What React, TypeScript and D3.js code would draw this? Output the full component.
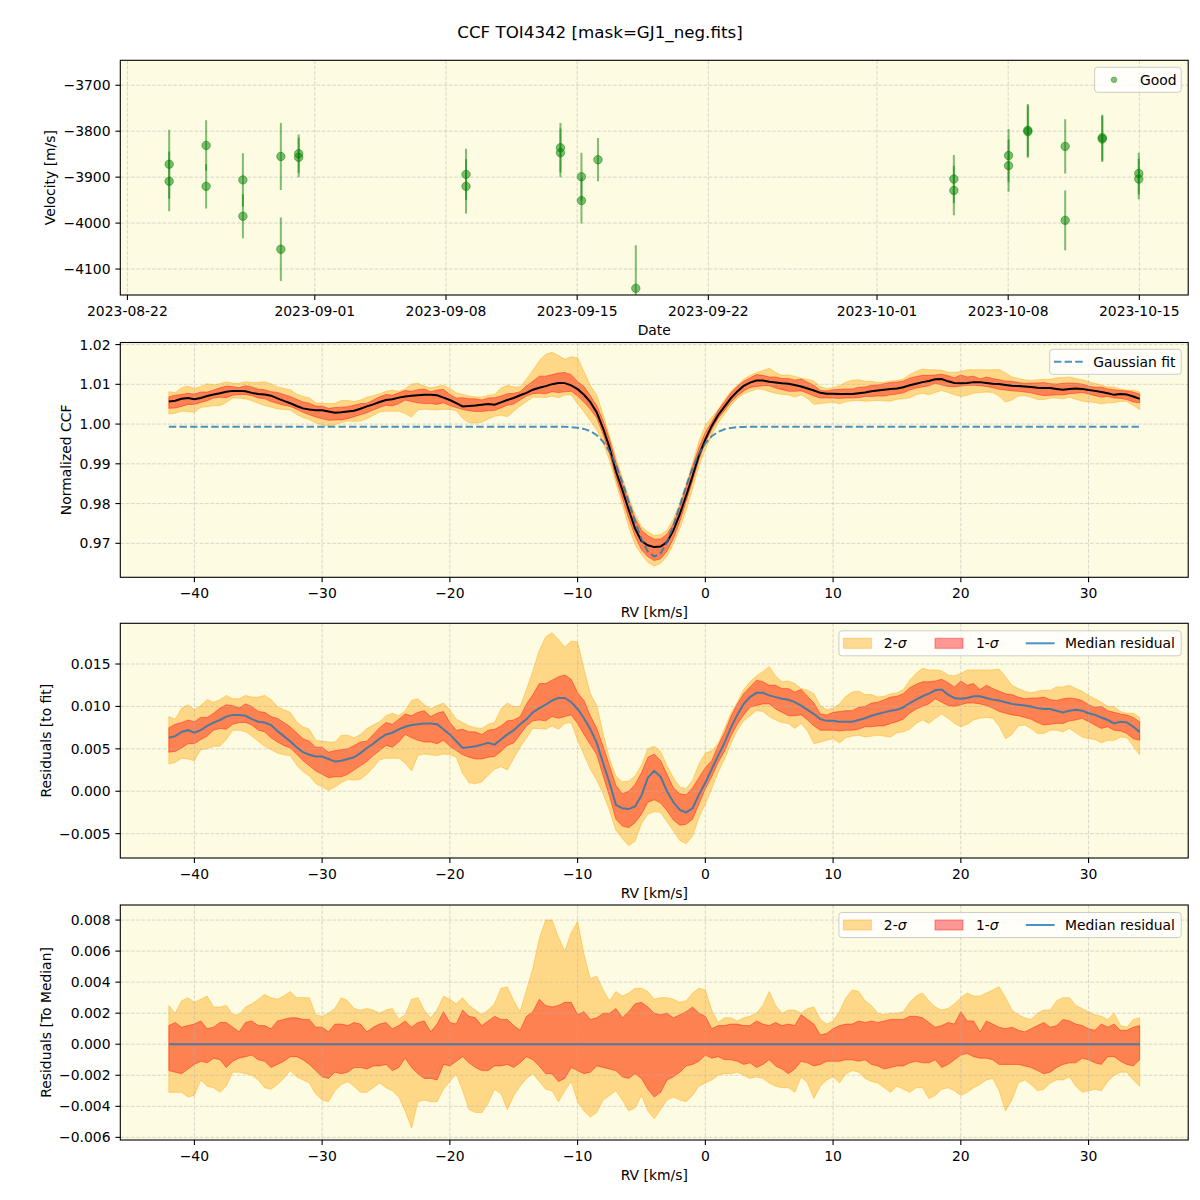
import React from 'react';
import * as d3 from 'd3';

// ---------------- DATA ----------------
// Panel 1: RV time series (velocity in m/s, error in m/s)
const OBS_TIME = [
  '2023-08-24T05:30:00Z', '2023-08-24T05:30:00Z',
  '2023-08-26T04:50:00Z', '2023-08-26T04:50:00Z',
  '2023-08-28T03:55:00Z', '2023-08-28T03:55:00Z',
  '2023-08-30T04:30:00Z', '2023-08-30T04:30:00Z',
  '2023-08-31T03:20:00Z', '2023-08-31T03:20:00Z',
  '2023-09-09T01:40:00Z', '2023-09-09T01:40:00Z',
  '2023-09-14T02:35:00Z', '2023-09-14T02:35:00Z',
  '2023-09-15T05:30:00Z', '2023-09-15T05:30:00Z',
  '2023-09-16T02:40:00Z',
  '2023-09-18T03:05:00Z',
  '2023-10-05T02:25:00Z', '2023-10-05T02:25:00Z',
  '2023-10-08T00:30:00Z', '2023-10-08T00:30:00Z',
  '2023-10-09T01:10:00Z', '2023-10-09T01:10:00Z',
  '2023-10-11T01:00:00Z', '2023-10-11T01:00:00Z',
  '2023-10-13T00:30:00Z', '2023-10-13T00:30:00Z',
  '2023-10-14T23:15:00Z', '2023-10-14T23:15:00Z',
];
const OBS_VEL = [
  -3872, -3909, -3831, -3920, -3906, -3985, -3855, -4057, -3849, -3857,
  -3894, -3920, -3836, -3847, -3899, -3951, -3862, -4142,
  -3904, -3929, -3853, -3875, -3798, -3801, -3833, -3994, -3814, -3817, -3892, -3904,
];
const OBS_ERR = [
  75, 65, 55, 48, 58, 48, 73, 69, 42, 43,
  56, 59, 54, 53, 52, 50, 47, 94,
  52, 54, 58, 57, 57, 57, 59, 65, 50, 50, 45, 44,
];

// RV grid (km/s)
const RV = [
  -42, -41.5, -41, -40.5, -40, -39.5, -39, -38.5, -38, -37.5,
  -37, -36.5, -36, -35.5, -35, -34.5, -34, -33.5, -33, -32.5,
  -32, -31.5, -31, -30.5, -30, -29.5, -29, -28.5, -28, -27.5,
  -27, -26.5, -26, -25.5, -25, -24.5, -24, -23.5, -23, -22.5,
  -22, -21.5, -21, -20.5, -20, -19.5, -19, -18.5, -18, -17.5,
  -17, -16.5, -16, -15.5, -15, -14.5, -14, -13.5, -13, -12.5,
  -12, -11.5, -11, -10.5, -10, -9.5, -9, -8.5, -8, -7.5,
  -7, -6.5, -6, -5.5, -5, -4.5, -4, -3.5, -3, -2.5,
  -2, -1.5, -1, -0.5, 0, 0.5, 1, 1.5, 2, 2.5,
  3, 3.5, 4, 4.5, 5, 5.5, 6, 6.5, 7, 7.5,
  8, 8.5, 9, 9.5, 10, 10.5, 11, 11.5, 12, 12.5,
  13, 13.5, 14, 14.5, 15, 15.5, 16, 16.5, 17, 17.5,
  18, 18.5, 19, 19.5, 20, 20.5, 21, 21.5, 22, 22.5,
  23, 23.5, 24, 24.5, 25, 25.5, 26, 26.5, 27, 27.5,
  28, 28.5, 29, 29.5, 30, 30.5, 31, 31.5, 32, 32.5,
  33, 33.5, 34,
];

// Gaussian fit (normalized CCF)
const GAUSS = [
  0.99935, 0.99935, 0.99935, 0.99935, 0.99935, 0.99935, 0.99935, 0.99935, 0.99935, 0.99935,
  0.99935, 0.99935, 0.99935, 0.99935, 0.99935, 0.99935, 0.99935, 0.99935, 0.99935, 0.99935,
  0.99935, 0.99935, 0.99935, 0.99935, 0.99935, 0.99935, 0.99935, 0.99935, 0.99935, 0.99935,
  0.99935, 0.99935, 0.99935, 0.99935, 0.99935, 0.99935, 0.99935, 0.99935, 0.99935, 0.99935,
  0.99935, 0.99935, 0.99935, 0.99935, 0.99935, 0.99935, 0.99935, 0.99935, 0.99935, 0.99935,
  0.99935, 0.99935, 0.99935, 0.99935, 0.99935, 0.99935, 0.99935, 0.99935, 0.99935, 0.99935,
  0.99934, 0.99933, 0.99930, 0.99923, 0.99908, 0.99878, 0.99821, 0.99720, 0.99557, 0.99311,
  0.98973, 0.98545, 0.98053, 0.97551, 0.97106, 0.96792, 0.96665, 0.96751, 0.97031, 0.97455,
  0.97952, 0.98450, 0.98894, 0.99251, 0.99515, 0.99693, 0.99805, 0.99869, 0.99904, 0.99921,
  0.99929, 0.99933, 0.99934, 0.99935, 0.99935, 0.99935, 0.99935, 0.99935, 0.99935, 0.99935,
  0.99935, 0.99935, 0.99935, 0.99935, 0.99935, 0.99935, 0.99935, 0.99935, 0.99935, 0.99935,
  0.99935, 0.99935, 0.99935, 0.99935, 0.99935, 0.99935, 0.99935, 0.99935, 0.99935, 0.99935,
  0.99935, 0.99935, 0.99935, 0.99935, 0.99935, 0.99935, 0.99935, 0.99935, 0.99935, 0.99935,
  0.99935, 0.99935, 0.99935, 0.99935, 0.99935, 0.99935, 0.99935, 0.99935, 0.99935, 0.99935,
  0.99935, 0.99935, 0.99935, 0.99935, 0.99935, 0.99935, 0.99935, 0.99935, 0.99935, 0.99935,
  0.99935, 0.99935, 0.99935,
];

// Median residual to the fit
const MED = [
  0.0063, 0.0065, 0.0070, 0.0072, 0.0069, 0.0072, 0.0077, 0.0081, 0.0084, 0.0088,
  0.0090, 0.0090, 0.0089, 0.0085, 0.0082, 0.0081, 0.0078, 0.0071, 0.0065, 0.0059,
  0.0052, 0.0046, 0.0043, 0.0041, 0.0041, 0.0038, 0.0035, 0.0036, 0.0038, 0.0040,
  0.0045, 0.0051, 0.0056, 0.0062, 0.0067, 0.0069, 0.0073, 0.0076, 0.0078, 0.0079,
  0.0080, 0.0080, 0.0079, 0.0073, 0.0067, 0.0059, 0.0051, 0.0052, 0.0053, 0.0055,
  0.0057, 0.0055, 0.0061, 0.0067, 0.0072, 0.0079, 0.0085, 0.0093, 0.0098, 0.0102,
  0.0107, 0.0110, 0.0110, 0.0105, 0.0097, 0.0086, 0.0073, 0.0057, 0.0033, 0.0010,
  -0.0016, -0.0020, -0.0021, -0.0018, -0.0005, 0.0016, 0.0024, 0.0017, 0.0000, -0.0013,
  -0.0022, -0.0025, -0.0020, -0.0004, 0.0010, 0.0026, 0.0042, 0.0057, 0.0075, 0.0090,
  0.0103, 0.0111, 0.0116, 0.0116, 0.0113, 0.0111, 0.0109, 0.0108, 0.0105, 0.0101,
  0.0096, 0.0091, 0.0085, 0.0083, 0.0083, 0.0082, 0.0082, 0.0082, 0.0084, 0.0086,
  0.0089, 0.0091, 0.0093, 0.0095, 0.0096, 0.0099, 0.0104, 0.0108, 0.0112, 0.0115,
  0.0119, 0.0120, 0.0114, 0.0110, 0.0109, 0.0110, 0.0112, 0.0112, 0.0110, 0.0108,
  0.0107, 0.0105, 0.0103, 0.0102, 0.0101, 0.0100, 0.0098, 0.0097, 0.0097, 0.0095,
  0.0093, 0.0095, 0.0096, 0.0095, 0.0092, 0.0090, 0.0087, 0.0084, 0.0080, 0.0082,
  0.0081, 0.0076, 0.0070,
];

// Percentile bands, relative to the median (as in the bottom panel)
const SIG2_HI = [
  0.0025, 0.0020, 0.0028, 0.0030, 0.0027, 0.0029, 0.0031, 0.0024, 0.0024, 0.0025,
  0.0019, 0.0019, 0.0024, 0.0026, 0.0029, 0.0032, 0.0030, 0.0029, 0.0031, 0.0034,
  0.0030, 0.0030, 0.0030, 0.0019, 0.0018, 0.0020, 0.0023, 0.0030, 0.0028, 0.0023,
  0.0022, 0.0023, 0.0022, 0.0020, 0.0022, 0.0023, 0.0016, 0.0019, 0.0029, 0.0030,
  0.0022, 0.0017, 0.0022, 0.0031, 0.0029, 0.0026, 0.0030, 0.0025, 0.0022, 0.0019,
  0.0022, 0.0026, 0.0036, 0.0037, 0.0028, 0.0021, 0.0035, 0.0049, 0.0068, 0.0080,
  0.0080, 0.0069, 0.0060, 0.0072, 0.0079, 0.0058, 0.0042, 0.0044, 0.0035, 0.0028,
  0.0034, 0.0031, 0.0033, 0.0036, 0.0036, 0.0034, 0.0029, 0.0030, 0.0030, 0.0029,
  0.0027, 0.0028, 0.0033, 0.0036, 0.0035, 0.0022, 0.0014, 0.0017, 0.0017, 0.0015,
  0.0017, 0.0018, 0.0020, 0.0025, 0.0034, 0.0025, 0.0020, 0.0022, 0.0022, 0.0020,
  0.0023, 0.0024, 0.0016, 0.0013, 0.0015, 0.0021, 0.0030, 0.0035, 0.0034, 0.0028,
  0.0025, 0.0020, 0.0019, 0.0020, 0.0020, 0.0021, 0.0027, 0.0031, 0.0033, 0.0028,
  0.0024, 0.0022, 0.0023, 0.0026, 0.0030, 0.0033, 0.0031, 0.0031, 0.0033, 0.0035,
  0.0037, 0.0030, 0.0022, 0.0019, 0.0017, 0.0016, 0.0020, 0.0022, 0.0022, 0.0028,
  0.0030, 0.0030, 0.0025, 0.0023, 0.0021, 0.0019, 0.0018, 0.0016, 0.0020, 0.0012,
  0.0011, 0.0016, 0.0017,
];
const SIG1_HI = [
  0.0012, 0.0014, 0.0011, 0.0012, 0.0013, 0.0015, 0.0010, 0.0011, 0.0014, 0.0014,
  0.0011, 0.0008, 0.0014, 0.0015, 0.0012, 0.0012, 0.0010, 0.0015, 0.0016, 0.0017,
  0.0017, 0.0016, 0.0016, 0.0011, 0.0011, 0.0008, 0.0013, 0.0013, 0.0012, 0.0014,
  0.0013, 0.0008, 0.0011, 0.0013, 0.0014, 0.0010, 0.0012, 0.0015, 0.0011, 0.0014,
  0.0015, 0.0008, 0.0013, 0.0021, 0.0014, 0.0013, 0.0022, 0.0018, 0.0017, 0.0012,
  0.0015, 0.0018, 0.0016, 0.0016, 0.0012, 0.0009, 0.0018, 0.0021, 0.0029, 0.0025,
  0.0024, 0.0025, 0.0027, 0.0027, 0.0019, 0.0021, 0.0016, 0.0017, 0.0020, 0.0020,
  0.0023, 0.0017, 0.0021, 0.0026, 0.0027, 0.0024, 0.0020, 0.0019, 0.0020, 0.0017,
  0.0019, 0.0021, 0.0024, 0.0020, 0.0018, 0.0010, 0.0012, 0.0012, 0.0013, 0.0013,
  0.0012, 0.0012, 0.0015, 0.0013, 0.0012, 0.0014, 0.0012, 0.0013, 0.0012, 0.0019,
  0.0016, 0.0013, 0.0006, 0.0007, 0.0010, 0.0012, 0.0013, 0.0013, 0.0015, 0.0014,
  0.0015, 0.0014, 0.0015, 0.0016, 0.0016, 0.0016, 0.0018, 0.0018, 0.0017, 0.0014,
  0.0011, 0.0012, 0.0014, 0.0013, 0.0021, 0.0015, 0.0015, 0.0008, 0.0015, 0.0013,
  0.0011, 0.0010, 0.0011, 0.0009, 0.0008, 0.0010, 0.0012, 0.0014, 0.0011, 0.0012,
  0.0016, 0.0015, 0.0013, 0.0012, 0.0010, 0.0009, 0.0013, 0.0011, 0.0013, 0.0009,
  0.0009, 0.0011, 0.0012,
];
const SIG1_LO = [
  -0.0017, -0.0018, -0.0019, -0.0016, -0.0013, -0.0011, -0.0012, -0.0009, -0.0010, -0.0015,
  -0.0011, -0.0009, -0.0008, -0.0007, -0.0010, -0.0011, -0.0015, -0.0013, -0.0011, -0.0008,
  -0.0008, -0.0010, -0.0013, -0.0017, -0.0021, -0.0022, -0.0018, -0.0019, -0.0018, -0.0015,
  -0.0015, -0.0016, -0.0014, -0.0014, -0.0013, -0.0017, -0.0015, -0.0009, -0.0015, -0.0019,
  -0.0022, -0.0022, -0.0023, -0.0013, -0.0014, -0.0011, -0.0008, -0.0012, -0.0015, -0.0017,
  -0.0017, -0.0014, -0.0014, -0.0013, -0.0015, -0.0012, -0.0008, -0.0010, -0.0014, -0.0019,
  -0.0019, -0.0024, -0.0022, -0.0015, -0.0017, -0.0019, -0.0018, -0.0014, -0.0015, -0.0016,
  -0.0017, -0.0021, -0.0022, -0.0019, -0.0022, -0.0029, -0.0034, -0.0031, -0.0023, -0.0021,
  -0.0018, -0.0014, -0.0013, -0.0011, -0.0007, -0.0009, -0.0008, -0.0010, -0.0010, -0.0011,
  -0.0013, -0.0012, -0.0015, -0.0013, -0.0010, -0.0014, -0.0016, -0.0019, -0.0016, -0.0011,
  -0.0012, -0.0014, -0.0013, -0.0011, -0.0011, -0.0011, -0.0010, -0.0010, -0.0011, -0.0010,
  -0.0013, -0.0014, -0.0016, -0.0015, -0.0014, -0.0014, -0.0012, -0.0011, -0.0012, -0.0012,
  -0.0010, -0.0015, -0.0013, -0.0010, -0.0007, -0.0006, -0.0008, -0.0009, -0.0009, -0.0010,
  -0.0013, -0.0013, -0.0013, -0.0013, -0.0014, -0.0015, -0.0017, -0.0019, -0.0018, -0.0015,
  -0.0013, -0.0012, -0.0012, -0.0009, -0.0010, -0.0012, -0.0013, -0.0008, -0.0008, -0.0011,
  -0.0013, -0.0014, -0.0010,
];
const SIG2_LO = [
  -0.0031, -0.0031, -0.0031, -0.0034, -0.0033, -0.0023, -0.0027, -0.0028, -0.0031, -0.0027,
  -0.0018, -0.0018, -0.0019, -0.0020, -0.0023, -0.0028, -0.0029, -0.0026, -0.0022, -0.0017,
  -0.0021, -0.0023, -0.0025, -0.0032, -0.0036, -0.0037, -0.0030, -0.0026, -0.0024, -0.0027,
  -0.0031, -0.0031, -0.0028, -0.0025, -0.0028, -0.0030, -0.0034, -0.0043, -0.0054, -0.0037,
  -0.0036, -0.0037, -0.0037, -0.0029, -0.0024, -0.0019, -0.0030, -0.0042, -0.0044, -0.0044,
  -0.0038, -0.0029, -0.0032, -0.0042, -0.0033, -0.0027, -0.0022, -0.0019, -0.0024, -0.0029,
  -0.0030, -0.0037, -0.0030, -0.0024, -0.0037, -0.0043, -0.0047, -0.0044, -0.0036, -0.0033,
  -0.0030, -0.0036, -0.0043, -0.0041, -0.0033, -0.0043, -0.0048, -0.0042, -0.0036, -0.0034,
  -0.0036, -0.0037, -0.0033, -0.0027, -0.0025, -0.0023, -0.0020, -0.0019, -0.0019, -0.0018,
  -0.0020, -0.0022, -0.0021, -0.0022, -0.0025, -0.0027, -0.0028, -0.0028, -0.0031, -0.0021,
  -0.0025, -0.0035, -0.0027, -0.0023, -0.0021, -0.0025, -0.0019, -0.0017, -0.0018, -0.0022,
  -0.0024, -0.0025, -0.0028, -0.0031, -0.0027, -0.0029, -0.0031, -0.0028, -0.0028, -0.0035,
  -0.0033, -0.0029, -0.0028, -0.0030, -0.0033, -0.0031, -0.0028, -0.0026, -0.0023, -0.0022,
  -0.0030, -0.0043, -0.0036, -0.0025, -0.0023, -0.0026, -0.0030, -0.0029, -0.0025, -0.0023,
  -0.0023, -0.0021, -0.0027, -0.0031, -0.0030, -0.0029, -0.0030, -0.0024, -0.0020, -0.0018,
  -0.0018, -0.0023, -0.0027,
];

// Tick values
const DATE_TICKS = ['2023-08-22', '2023-09-01', '2023-09-08', '2023-09-15', '2023-09-22', '2023-10-01', '2023-10-08', '2023-10-15'];
const RV_TICKS = [-40, -30, -20, -10, 0, 10, 20, 30];
const P1_YTICKS = [-4100, -4000, -3900, -3800, -3700];
const P2_YTICKS = [0.97, 0.98, 0.99, 1.0, 1.01, 1.02];
const P3_YTICKS = [-0.005, 0, 0.005, 0.01, 0.015];
const P4_YTICKS = [-0.006, -0.004, -0.002, 0, 0.002, 0.004, 0.006, 0.008];

// ---------------- LAYOUT / STYLE ----------------
const FONT = 'DejaVu Sans, Liberation Sans, sans-serif';
const FS = 13.9;
const AX_L = 120.3;
const AX_R = 1188.2;
const PANELS = [
  { top: 60.3, bottom: 295 },
  { top: 342.5, bottom: 577.3 },
  { top: 623.3, bottom: 858 },
  { top: 905, bottom: 1140 },
];
const FACE = '#fdfbe1';
const GRID = '#b0b0b0';

const minus = (s: string) => s.replace('-', '\u2212');

type FrameProps = {
  idx: number;
  x: any;
  y: any;
  xTicks: any[];
  xFmt: (v: any) => string;
  yTicks: number[];
  yFmt: (v: number) => string;
  xLabel: string;
  yLabel: string;
  yLabelX: number;
  fills?: React.ReactNode;
  marks?: React.ReactNode;
  legend?: React.ReactNode;
};

function Frame(p: FrameProps) {
  const { top, bottom } = PANELS[p.idx];
  const clip = `clip${p.idx}`;
  const tick = 4.9;
  return (
    <g>
      <defs>
        <clipPath id={clip}>
          <rect x={AX_L} y={top} width={AX_R - AX_L} height={bottom - top} />
        </clipPath>
      </defs>
      <rect x={AX_L} y={top} width={AX_R - AX_L} height={bottom - top} fill={FACE} />
      <g clipPath={`url(#${clip})`}>{p.fills}</g>
      <g stroke={GRID} strokeOpacity={0.6} strokeWidth={0.8} strokeDasharray="3.7,1.6">
        {p.xTicks.map((t, i) => (
          <line key={'gx' + i} x1={p.x(t)} x2={p.x(t)} y1={top} y2={bottom} />
        ))}
        {p.yTicks.map((t, i) => (
          <line key={'gy' + i} x1={AX_L} x2={AX_R} y1={p.y(t)} y2={p.y(t)} />
        ))}
      </g>
      <g clipPath={`url(#${clip})`}>{p.marks}</g>
      <rect x={AX_L} y={top} width={AX_R - AX_L} height={bottom - top} fill="none" stroke="#000" strokeWidth={1.1} />
      <g stroke="#000" strokeWidth={1.1}>
        {p.xTicks.map((t, i) => (
          <line key={'tx' + i} x1={p.x(t)} x2={p.x(t)} y1={bottom} y2={bottom + tick} />
        ))}
        {p.yTicks.map((t, i) => (
          <line key={'ty' + i} x1={AX_L - tick} x2={AX_L} y1={p.y(t)} y2={p.y(t)} />
        ))}
      </g>
      <g fontFamily={FONT} fontSize={FS} fill="#000">
        {p.xTicks.map((t, i) => (
          <text key={'lx' + i} x={p.x(t)} y={bottom + 20.5} textAnchor="middle">
            {p.xFmt(t)}
          </text>
        ))}
        {p.yTicks.map((t, i) => (
          <text key={'ly' + i} x={AX_L - 9.8} y={p.y(t)} dy="0.36em" textAnchor="end">
            {p.yFmt(t)}
          </text>
        ))}
        <text x={(AX_L + AX_R) / 2} y={bottom + 39.5} textAnchor="middle">
          {p.xLabel}
        </text>
        <text
          transform={`translate(${p.yLabelX},${(top + bottom) / 2}) rotate(-90)`}
          textAnchor="middle"
          dy="0.36em"
        >
          {p.yLabel}
        </text>
      </g>
      {p.legend}
    </g>
  );
}

function LegendBox({ x, y, w, h }: { x: number; y: number; w: number; h: number }) {
  return <rect x={x} y={y} width={w} height={h} rx={3} fill="#fff" fillOpacity={0.8} stroke="#cccccc" strokeWidth={1} />;
}

function BandLegend({ top }: { top: number }) {
  const y0 = top + 7.5;
  const cy = y0 + 12.5;
  return (
    <g fontFamily={FONT} fontSize={FS}>
      <LegendBox x={838.9} y={y0} w={342.3} h={25} />
      <rect x={843.4} y={cy - 5} width={28} height={10} fill="orange" fillOpacity={0.4} stroke="orange" strokeOpacity={0.4} />
      <text x={883.8} y={cy} dy="0.36em">
        2-<tspan fontStyle="italic">σ</tspan>
      </text>
      <rect x={935} y={cy - 5} width={28} height={10} fill="red" fillOpacity={0.4} stroke="red" strokeOpacity={0.4} />
      <text x={976} y={cy} dy="0.36em">
        1-<tspan fontStyle="italic">σ</tspan>
      </text>
      <line x1={1025.8} x2={1054.6} y1={cy} y2={cy} stroke="#1f77b4" strokeOpacity={0.8} strokeWidth={2} />
      <text x={1065} y={cy} dy="0.36em">
        Median residual
      </text>
    </g>
  );
}

export default function App() {
  const n = RV.length;
  const idx = d3.range(n);

  // ---- Panel 1 ----
  const times = OBS_TIME.map((t) => new Date(t));
  const xT = d3
    .scaleUtc()
    .domain([new Date('2023-08-21T14:54:00Z'), new Date('2023-10-17T14:33:00Z')])
    .range([AX_L, AX_R]);
  const y1 = d3.scaleLinear().domain([-4156.5, -3645.7]).range([PANELS[0].bottom, PANELS[0].top]);
  const dateTicks = DATE_TICKS.map((d) => new Date(d + 'T00:00:00Z'));
  const fmtDate = d3.utcFormat('%Y-%m-%d');

  // ---- RV panels ----
  const xR = d3.scaleLinear().domain([-45.8, 37.8]).range([AX_L, AX_R]);
  const y2 = d3.scaleLinear().domain([0.96145, 1.02052]).range([PANELS[1].bottom, PANELS[1].top]);
  const y3 = d3.scaleLinear().domain([-0.00787, 0.0198]).range([PANELS[2].bottom, PANELS[2].top]);
  const y4 = d3.scaleLinear().domain([-0.00617, 0.00897]).range([PANELS[3].bottom, PANELS[3].top]);

  const ccf = idx.map((i) => GAUSS[i] + MED[i]);

  const band = (ys: any, base: (i: number) => number, lo: number[], hi: number[]) =>
    d3
      .area<number>()
      .x((i) => xR(RV[i]))
      .y0((i) => ys(base(i) + lo[i]))
      .y1((i) => ys(base(i) + hi[i]))(idx) as string;
  const linePath = (ys: any, vals: (i: number) => number) =>
    d3
      .line<number>()
      .x((i) => xR(RV[i]))
      .y((i) => ys(vals(i)))(idx) as string;

  const fills = (ys: any, base: (i: number) => number) => (
    <g>
      <path d={band(ys, base, SIG2_LO, SIG2_HI)} fill="orange" fillOpacity={0.4} stroke="orange" strokeOpacity={0.4} strokeWidth={1} />
      <path d={band(ys, base, SIG1_LO, SIG1_HI)} fill="red" fillOpacity={0.4} stroke="red" strokeOpacity={0.4} strokeWidth={1} />
    </g>
  );

  const fmt2 = (v: number) => minus(v.toFixed(2));
  const fmt3 = (v: number) => minus(v.toFixed(3));
  const fmtInt = (v: number) => minus(String(v));

  return (
    <svg
      width={1200}
      height={1200}
      viewBox="0 0 1200 1200"
      style={{ position: 'absolute', left: 0, top: 0, background: '#fff' }}
      xmlns="http://www.w3.org/2000/svg"
    >
      <rect x={0} y={0} width={1200} height={1200} fill="#fff" />
      <text x={600} y={32} dy="0.36em" textAnchor="middle" fontFamily={FONT} fontSize={16.7}>
        CCF TOI4342 [mask=GJ1_neg.fits]
      </text>

      {/* Panel 1 */}
      <Frame
        idx={0}
        x={xT}
        y={y1}
        xTicks={dateTicks}
        xFmt={fmtDate}
        yTicks={P1_YTICKS}
        yFmt={fmtInt}
        xLabel="Date"
        yLabel="Velocity [m/s]"
        yLabelX={50}
        marks={
          <g>
            {times.map((t, i) => (
              <line
                key={'e' + i}
                x1={xT(t)}
                x2={xT(t)}
                y1={y1(OBS_VEL[i] - OBS_ERR[i])}
                y2={y1(OBS_VEL[i] + OBS_ERR[i])}
                stroke="green"
                strokeOpacity={0.5}
                strokeWidth={2}
              />
            ))}
            {times.map((t, i) => (
              <circle
                key={'m' + i}
                cx={xT(t)}
                cy={y1(OBS_VEL[i])}
                r={4.2}
                fill="green"
                fillOpacity={0.5}
                stroke="green"
                strokeOpacity={0.5}
                strokeWidth={1}
              />
            ))}
          </g>
        }
        legend={
          <g fontFamily={FONT} fontSize={FS}>
            <LegendBox x={1094.6} y={67.3} w={86.6} h={25} />
            <circle cx={1114} cy={79.8} r={2.8} fill="green" fillOpacity={0.5} stroke="green" strokeOpacity={0.5} strokeWidth={0.8} />
            <text x={1140} y={79.8} dy="0.36em">
              Good
            </text>
          </g>
        }
      />

      {/* Panel 2 */}
      <Frame
        idx={1}
        x={xR}
        y={y2}
        xTicks={RV_TICKS}
        xFmt={(v) => minus(String(v))}
        yTicks={P2_YTICKS}
        yFmt={fmt2}
        xLabel="RV [km/s]"
        yLabel="Normalized CCF"
        yLabelX={66}
        fills={fills(y2, (i) => ccf[i])}
        marks={
          <g>
            <path d={linePath(y2, (i) => ccf[i])} fill="none" stroke="#000" strokeWidth={2} />
            <path
              d={linePath(y2, (i) => GAUSS[i])}
              fill="none"
              stroke="#1f77b4"
              strokeOpacity={0.8}
              strokeWidth={2}
              strokeDasharray="7.4,3.2"
            />
          </g>
        }
        legend={
          <g fontFamily={FONT} fontSize={FS}>
            <LegendBox x={1049.7} y={349.3} w={131.5} h={25} />
            <line x1={1054} x2={1082.6} y1={361.8} y2={361.8} stroke="#1f77b4" strokeOpacity={0.8} strokeWidth={2} strokeDasharray="7.4,3.2" />
            <text x={1093.2} y={361.8} dy="0.36em">
              Gaussian fit
            </text>
          </g>
        }
      />

      {/* Panel 3 */}
      <Frame
        idx={2}
        x={xR}
        y={y3}
        xTicks={RV_TICKS}
        xFmt={(v) => minus(String(v))}
        yTicks={P3_YTICKS}
        yFmt={fmt3}
        xLabel="RV [km/s]"
        yLabel="Residuals [to fit]"
        yLabelX={46}
        fills={fills(y3, (i) => MED[i])}
        marks={<path d={linePath(y3, (i) => MED[i])} fill="none" stroke="#1f77b4" strokeOpacity={0.8} strokeWidth={2} />}
        legend={<BandLegend top={PANELS[2].top} />}
      />

      {/* Panel 4 */}
      <Frame
        idx={3}
        x={xR}
        y={y4}
        xTicks={RV_TICKS}
        xFmt={(v) => minus(String(v))}
        yTicks={P4_YTICKS}
        yFmt={fmt3}
        xLabel="RV [km/s]"
        yLabel="Residuals [To Median]"
        yLabelX={46}
        fills={fills(y4, (i) => MED[i] - MED[i])}
        marks={<path d={linePath(y4, (i) => MED[i] - MED[i])} fill="none" stroke="#1f77b4" strokeOpacity={0.8} strokeWidth={2} />}
        legend={<BandLegend top={PANELS[3].top} />}
      />
    </svg>
  );
}
